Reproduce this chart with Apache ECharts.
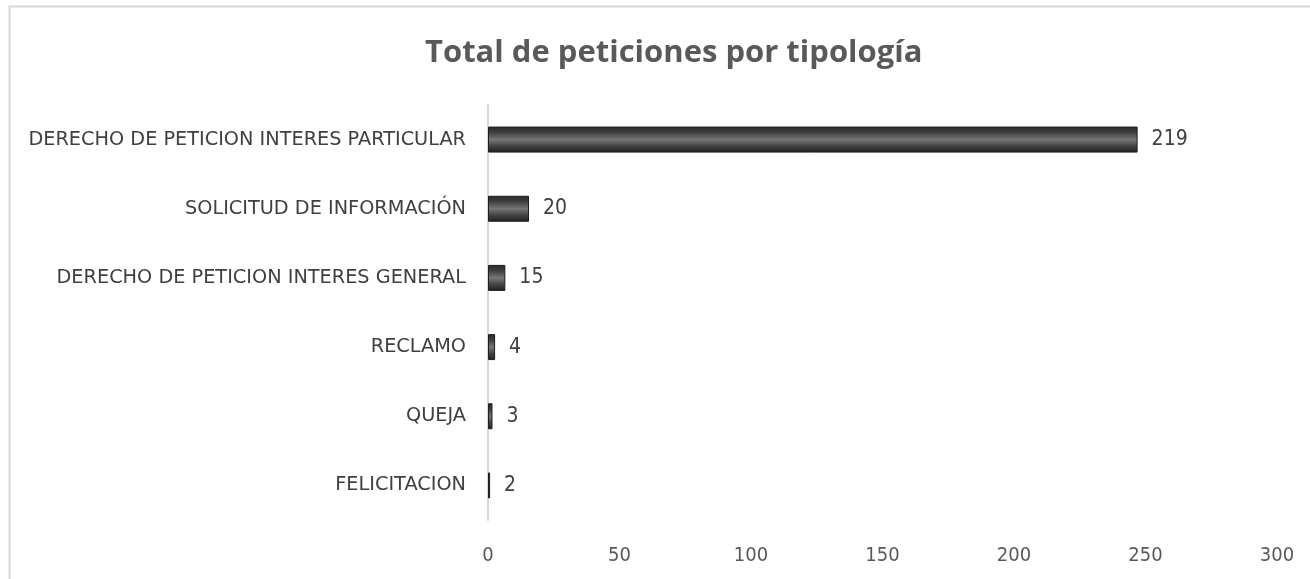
<!DOCTYPE html>
<html>
<head>
<meta charset="utf-8">
<script src="https://cdn.jsdelivr.net/npm/echarts@6/dist/echarts.min.js"></script>
<style>
html,body{margin:0;padding:0;background:#fff;}
#chart{width:1310px;height:579px;}
</style>
</head>
<body>
<div id="chart"></div>
<script>
// Categories listed bottom to top (ECharts category y-axis order)
var categories = ["FELICITACION", "QUEJA", "RECLAMO", "DERECHO DE PETICION INTERES GENERAL", "SOLICITUD DE INFORMACIÓN", "DERECHO DE PETICION INTERES PARTICULAR"];
// Bar lengths as drawn in the picture (measured on the x axis)
var barLengths = [0.8, 1.7, 2.7, 6.6, 15.6, 247];
// Value labels printed next to the bars
var labelValues = [2, 3, 4, 15, 20, 219];
var xTicks = [0, 50, 100, 150, 200, 250, 300];

var FONT = "'Open Sans', 'Liberation Sans', sans-serif";
var CAT_FONT = "'DejaVu Sans', 'Open Sans', sans-serif";
var NUM_FONT = "'DejaVu Sans Condensed', 'DejaVu Sans', sans-serif";
var chart = echarts.init(document.getElementById('chart'), null, {renderer: 'canvas'});

var barGradient = new echarts.graphic.LinearGradient(0, 0, 0, 1, [
  {offset: 0, color: '#2a2a2a'},
  {offset: 0.22, color: '#3e3e3e'},
  {offset: 0.5, color: '#767676'},
  {offset: 0.78, color: '#3e3e3e'},
  {offset: 1, color: '#202020'}
]);

chart.setOption({
  animation: false,
  backgroundColor: '#ffffff',
  title: {
    text: 'Total de peticiones por tipología',
    left: 420,
    top: 33,
    textStyle: {fontFamily: FONT, fontSize: 31, fontWeight: 'bold', color: '#595959'}
  },
  graphic: [{
    type: 'rect',
    shape: {x: 9.5, y: 6.5, width: 1400, height: 700},
    style: {fill: 'none', stroke: '#d9d9d9', lineWidth: 2},
    silent: true
  }],
  grid: {left: 488, right: 33, top: 105, bottom: 59, containLabel: false},
  xAxis: {
    type: 'value',
    min: xTicks[0],
    max: xTicks[xTicks.length - 1],
    interval: xTicks[1] - xTicks[0],
    axisLine: {show: false},
    axisTick: {show: false},
    splitLine: {show: false},
    axisLabel: {fontFamily: NUM_FONT, fontSize: 20, color: '#595959', margin: 26}
  },
  yAxis: {
    type: 'category',
    data: categories,
    axisLine: {show: true, lineStyle: {color: '#d9d9d9', width: 2}},
    axisTick: {show: false},
    axisLabel: {fontFamily: CAT_FONT, fontSize: 19.3, color: '#404040', margin: 22}
  },
  series: [{
    type: 'bar',
    data: barLengths,
    barWidth: 26,
    itemStyle: {color: barGradient, borderColor: '#1e1e1e', borderWidth: 1},
    label: {
      show: true,
      position: 'right',
      distance: 14,
      fontFamily: NUM_FONT,
      fontSize: 21,
      color: '#404040',
      formatter: function (p) { return labelValues[p.dataIndex]; }
    }
  }]
});
</script>
</body>
</html>
